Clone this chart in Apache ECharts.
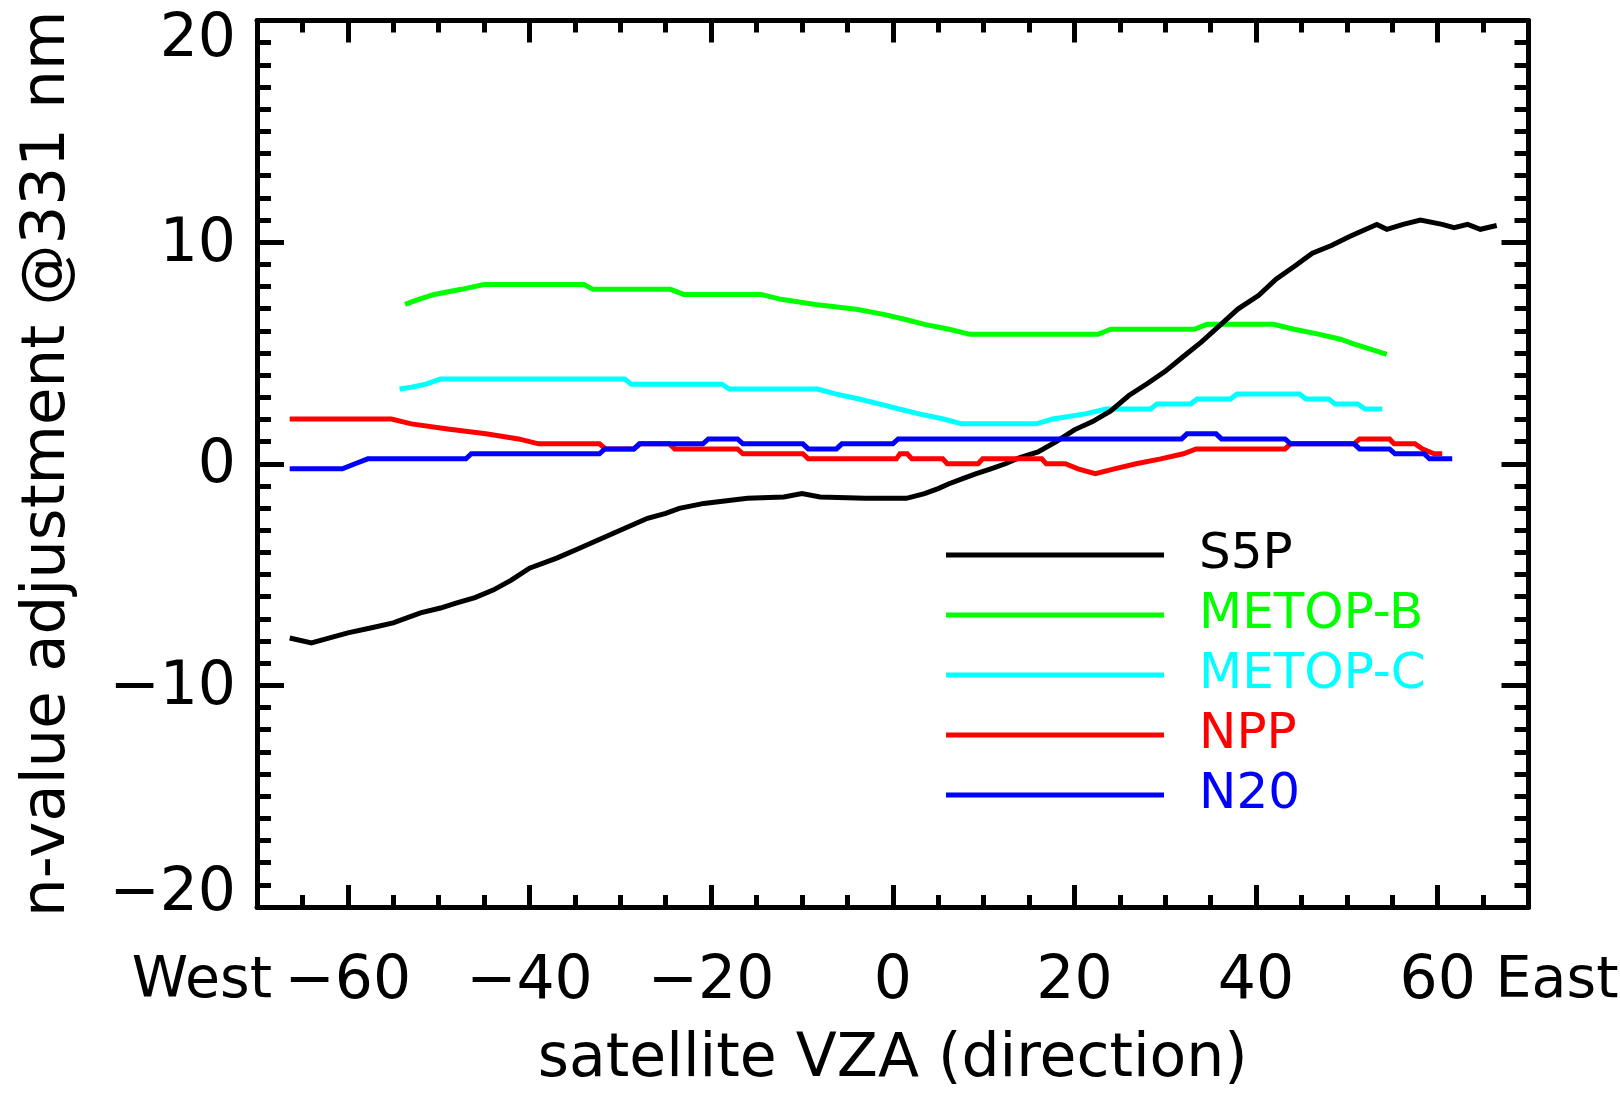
<!DOCTYPE html>
<html>
<head>
<meta charset="utf-8">
<title>n-value adjustment @331 nm vs satellite VZA</title>
<script src="https://cdn.jsdelivr.net/npm/echarts@6/dist/echarts.min.js"></script>
<style>
  html, body { margin: 0; padding: 0; background: #ffffff; }
  #chart { width: 1620px; height: 1095px; }
</style>
</head>
<body>
<div id="chart"></div>
<script>
// Viewing zenith angle (deg, negative = West) and n-value adjustment per instrument
const s5pVza = [-66.4, -64, -62, -60, -57.5, -55, -52, -49.8, -48, -46, -44, -42, -40, -37, -34.5, -32, -29.5, -27, -25, -23.5, -20.8, -16, -12, -10, -8, -3, 1.5, 3.5, 5, 6.2, 7.7, 9.2, 10.8, 12.4, 14, 16, 18, 20, 22, 24, 26, 28, 30, 32, 34, 36.2, 38, 40.3, 42.2, 44.2, 46.2, 48.3, 50.3, 52.1, 53.3, 54.4, 56.2, 58.1, 60.5, 61.8, 63.3, 64.7, 66.5];
const s5pAdj = [-7.86, -8.08, -7.86, -7.63, -7.41, -7.18, -6.73, -6.51, -6.28, -6.04, -5.7, -5.25, -4.71, -4.26, -3.81, -3.36, -2.91, -2.46, -2.24, -2.01, -1.79, -1.56, -1.5, -1.34, -1.5, -1.56, -1.56, -1.35, -1.12, -0.9, -0.67, -0.45, -0.23, 0.0, 0.28, 0.53, 1.0, 1.53, 1.9, 2.38, 3.08, 3.61, 4.17, 4.84, 5.5, 6.31, 6.98, 7.6, 8.33, 8.9, 9.5, 9.85, 10.25, 10.58, 10.8, 10.58, 10.8, 11.0, 10.8, 10.65, 10.8, 10.58, 10.75];

const metopBVza = [-53.7, -52.2, -50.5, -47.5, -45, -34, -33, -24.5, -23, -14.5, -12.3, -8.5, -4, -1, 1.3, 3.5, 6.2, 8.5, 22.6, 24, 33.2, 34.6, 41.9, 44.2, 47, 49.3, 50.9, 52.6, 54.4];
const metopBAdj = [7.19, 7.42, 7.64, 7.87, 8.09, 8.09, 7.87, 7.87, 7.64, 7.64, 7.42, 7.19, 6.97, 6.74, 6.52, 6.29, 6.07, 5.84, 5.84, 6.07, 6.07, 6.29, 6.29, 6.07, 5.84, 5.62, 5.39, 5.17, 4.94];

const metopCVza = [-54.3, -53, -51.4, -49.8, -29.5, -28.8, -18.8, -18, -8.3, -6.3, -3.7, -1.5, 0.7, 2.9, 5.6, 7.6, 15.8, 17.6, 21.2, 23.5, 28.4, 29.1, 32.8, 33.5, 37.2, 37.9, 44.8, 45.5, 48, 48.7, 51.2, 52, 53.9];
const metopCAdj = [3.37, 3.45, 3.59, 3.82, 3.82, 3.59, 3.59, 3.37, 3.37, 3.15, 2.92, 2.70, 2.47, 2.25, 2.02, 1.80, 1.80, 2.02, 2.25, 2.47, 2.47, 2.70, 2.70, 2.92, 2.92, 3.15, 3.15, 2.92, 2.92, 2.70, 2.70, 2.47, 2.47];

const nppVza = [-66.4, -55.2, -53, -49, -44.8, -41.2, -39, -32.3, -31.6, -28.5, -27.8, -24.6, -24, -17.1, -16.5, -9.9, -9.3, 0.4, 0.8, 1.6, 2.1, 5.5, 6, 9.4, 9.9, 16.4, 16.9, 19, 20.4, 22.3, 24.4, 26.8, 29.5, 32, 33.4, 43.2, 43.8, 50.8, 51.4, 54.7, 55.2, 57.5, 58.3, 59.6, 60.5];
const nppAdj = [2.02, 2.02, 1.80, 1.57, 1.35, 1.12, 0.90, 0.90, 0.67, 0.67, 0.90, 0.90, 0.67, 0.67, 0.45, 0.45, 0.22, 0.22, 0.45, 0.45, 0.22, 0.22, 0.0, 0.0, 0.22, 0.22, 0.0, 0.0, -0.23, -0.45, -0.23, 0.0, 0.22, 0.45, 0.67, 0.67, 0.90, 0.90, 1.12, 1.12, 0.90, 0.90, 0.67, 0.45, 0.45];

const n20Vza = [-66.4, -60.6, -59.2, -57.8, -47, -46.4, -32.3, -31.7, -28.5, -27.9, -20.9, -20.3, -17.1, -16.5, -9.9, -9.3, -6.2, -5.6, 0, 0.6, 31.8, 32.4, 35.6, 36.2, 43.2, 43.8, 50.8, 51.4, 54.7, 55.3, 58.5, 59.1, 61.6];
const n20Adj = [-0.23, -0.23, 0.0, 0.22, 0.22, 0.45, 0.45, 0.67, 0.67, 0.90, 0.90, 1.12, 1.12, 0.90, 0.90, 0.67, 0.67, 0.90, 0.90, 1.12, 1.12, 1.35, 1.35, 1.12, 1.12, 0.90, 0.90, 0.67, 0.67, 0.45, 0.45, 0.22, 0.22];

// Axis labelling
const vzaLabelTicks = [-60, -40, -20, 0, 20, 40, 60];
const adjMin = -20;
const adjMax = 20;
const westLabel = 'West';
const eastLabel = 'East';
const xTitle = 'satellite VZA (direction)';
const yTitle = 'n-value adjustment @331 nm';

const FONT = "'DejaVu Sans', sans-serif";
const INK = '#000000';

function pairs(xs, ys) { return xs.map((x, i) => [x, ys[i]]); }
function withMinus(v) { return v < 0 ? '\u2212' + Math.abs(v) : String(v); }

// End labels of the adjustment axis are kept inside the frame
function adjLabel(v) {
  if (v === adjMax) return '{hi|' + withMinus(v) + '}';
  if (v === adjMin) return '{lo|' + withMinus(v) + '}';
  return withMinus(v);
}

const tickLine = { color: INK, width: 5 };
const labelText = { fontSize: 60, color: INK, fontFamily: FONT };

// Minor (every 5 deg) ticks on one axis, long ticks at the labelled values on an overlaid twin
function xAxisPair(position, withLabels) {
  return [
    {
      type: 'value', position, min: -70, max: 70, interval: 5,
      axisLine: { show: true, onZero: false, lineStyle: { color: INK, width: 5 } },
      axisTick: { show: true, inside: true, length: 12, lineStyle: tickLine },
      axisLabel: withLabels
        ? Object.assign({ show: true, customValues: vzaLabelTicks, formatter: withMinus, margin: 45 }, labelText)
        : { show: false },
      splitLine: { show: false },
      name: withLabels ? xTitle : '',
      nameLocation: 'middle',
      nameGap: 123,
      nameTextStyle: labelText
    },
    {
      type: 'value', position, min: -70, max: 70, interval: 5,
      axisLine: { show: false, onZero: false },
      axisTick: { show: true, inside: true, length: 22, customValues: vzaLabelTicks, lineStyle: tickLine },
      axisLabel: { show: false, customValues: vzaLabelTicks },
      splitLine: { show: false }
    }
  ];
}

function yAxisSide(position, withLabels) {
  return {
    type: 'value', position, min: adjMin, max: adjMax, interval: 10,
    axisLine: { show: true, onZero: false, lineStyle: { color: INK, width: 5 } },
    axisTick: { show: true, inside: true, length: 27, lineStyle: tickLine },
    minorTick: { show: true, splitNumber: 10, length: 14, lineStyle: tickLine },
    axisLabel: withLabels
      ? Object.assign({
          show: true, formatter: adjLabel, margin: 21, padding: [6, 0, 0, 0],
          rich: {
            hi: Object.assign({ padding: [34, 0, 0, 0] }, labelText),
            lo: Object.assign({ padding: [0, 0, 32, 0] }, labelText)
          }
        }, labelText)
      : { show: false },
    splitLine: { show: false },
    name: withLabels ? yTitle : '',
    nameLocation: 'middle',
    nameGap: 178,
    nameRotate: 90,
    nameTextStyle: { fontSize: 61, color: INK, fontFamily: FONT }
  };
}

const seriesDefs = [
  { name: 'METOP-B', color: '#00ff00', vza: metopBVza, adj: metopBAdj },
  { name: 'METOP-C', color: '#00ffff', vza: metopCVza, adj: metopCAdj },
  { name: 'S5P',     color: '#000000', vza: s5pVza,    adj: s5pAdj },
  { name: 'NPP',     color: '#ff0000', vza: nppVza,    adj: nppAdj },
  { name: 'N20',     color: '#0000ff', vza: n20Vza,    adj: n20Adj }
];
const legendOrder = ['S5P', 'METOP-B', 'METOP-C', 'NPP', 'N20'];
const colorOf = Object.fromEntries(seriesDefs.map(s => [s.name, s.color]));

const chart = echarts.init(document.getElementById('chart'), null, { renderer: 'canvas' });

chart.setOption({
  animation: false,
  backgroundColor: '#ffffff',
  grid: { left: 257, right: 91.5, top: 20.5, bottom: 185, containLabel: false },
  xAxis: [].concat(xAxisPair('bottom', true), xAxisPair('top', false)),
  yAxis: [yAxisSide('left', true), yAxisSide('right', false)],
  legend: {
    orient: 'vertical',
    left: 946,
    top: 525,
    padding: 0,
    itemGap: 0,
    itemWidth: 218,
    itemHeight: 5,
    icon: 'rect',
    selectedMode: false,
    textStyle: { fontSize: 50, fontFamily: FONT, lineHeight: 60, padding: [0, 0, 0, 30] },
    data: legendOrder.map(n => ({ name: n, textStyle: { color: colorOf[n] } }))
  },
  series: seriesDefs.map(s => ({
    name: s.name,
    type: 'line',
    xAxisIndex: 0,
    yAxisIndex: 0,
    data: pairs(s.vza, s.adj),
    showSymbol: false,
    symbol: 'none',
    smooth: false,
    color: s.color,
    itemStyle: { color: s.color },
    lineStyle: { color: s.color, width: 5, cap: 'butt', join: 'miter' },
    emphasis: { disabled: true }
  }))
});

// Direction words beside the end labels of the VZA axis
const xWest = chart.convertToPixel({ xAxisIndex: 0 }, -70);
const xEast = chart.convertToPixel({ xAxisIndex: 0 }, 70);
const yBase = chart.convertToPixel({ yAxisIndex: 0 }, adjMin);
chart.setOption({
  graphic: [
    { type: 'text', x: xWest + 15, y: yBase + 47,
      style: { text: westLabel, align: 'right', verticalAlign: 'top', fontSize: 57, fontFamily: FONT, fill: INK } },
    { type: 'text', x: xEast - 33, y: yBase + 47,
      style: { text: eastLabel, align: 'left', verticalAlign: 'top', fontSize: 57, fontFamily: FONT, fill: INK } }
  ]
});
</script>
</body>
</html>
